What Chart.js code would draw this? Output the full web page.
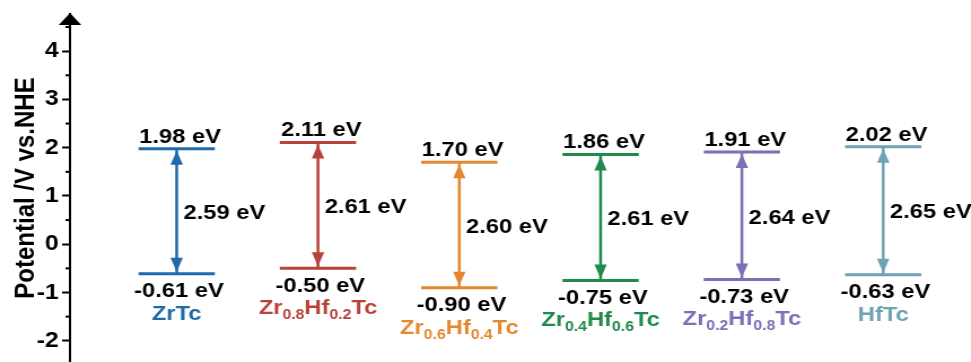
<!DOCTYPE html>
<html>
<head>
<meta charset="utf-8">
<script src="https://cdn.jsdelivr.net/npm/chart.js@4"></script>
<style>
  html, body { margin: 0; padding: 0; background: #fff; overflow: hidden; }
  /* the source figure is stretched sideways, so the canvas is too */
  #wrap { width: 860px; height: 362px; transform: scaleX(1.129); transform-origin: 0 0; }
</style>
</head>
<body>
<div id="wrap"><canvas id="chart" width="860" height="362"></canvas></div>
<script>
// ===== DATA =====
const materials = ['ZrTc', 'Zr_{0.8}Hf_{0.2}Tc', 'Zr_{0.6}Hf_{0.4}Tc', 'Zr_{0.4}Hf_{0.6}Tc', 'Zr_{0.2}Hf_{0.8}Tc', 'HfTc'];
const vbLevels = [1.98, 2.11, 1.70, 1.86, 1.91, 2.02];
const cbLevels = [-0.61, -0.50, -0.90, -0.75, -0.73, -0.63];
const bandGaps = [2.59, 2.61, 2.60, 2.61, 2.64, 2.65];
const colors = ['#1f6aa8', '#b8423a', '#e3882e', '#1f8a4a', '#7a70b5', '#6fa2b2'];
const yTicks = [-2, -1, 0, 1, 2, 3, 4];

const HALF = 0.27;   // half width of a level line, in x units
const FONT = "'Liberation Sans', Arial, sans-serif";

// Build line datasets: VB level, CB level, and the arrow shaft
const datasets = [];
materials.forEach((m, i) => {
    const x = i + 1;
    const base = { borderColor: colors[i], pointRadius: 0, showLine: true, fill: false };
    datasets.push({ ...base, borderWidth: 3,
        data: [{ x: x - HALF, y: vbLevels[i] }, { x: x + HALF, y: vbLevels[i] }] });
    datasets.push({ ...base, borderWidth: 3,
        data: [{ x: x - HALF, y: cbLevels[i] }, { x: x + HALF, y: cbLevels[i] }] });
    datasets.push({ ...base, borderWidth: 2.5,
        data: [{ x: x, y: vbLevels[i] }, { x: x, y: cbLevels[i] }] });
});

// draw text with _{sub} parts as subscripts
function drawName(ctx, text, cx, top, color) {
    const parts = text.split(/_\{([^}]*)\}/);
    const big = 'bold 21px ' + FONT, small = 'bold 14px ' + FONT;
    let w = 0;
    parts.forEach((p, k) => { ctx.font = k % 2 ? small : big; w += ctx.measureText(p).width; });
    let x = cx - w / 2;
    ctx.fillStyle = color;
    ctx.textAlign = 'left';
    ctx.textBaseline = 'alphabetic';
    parts.forEach((p, k) => {
        ctx.font = k % 2 ? small : big;
        ctx.fillText(p, x, top + 15 + (k % 2 ? 5 : 0));
        x += ctx.measureText(p).width;
    });
}

const bandPlugin = {
    id: 'bands',
    afterDatasetsDraw(chart) {
        const ctx = chart.ctx;
        const xs = chart.scales.x, ys = chart.scales.y;
        ctx.save();
        materials.forEach((m, i) => {
            const x = xs.getPixelForValue(i + 1);
            const yTop = ys.getPixelForValue(vbLevels[i]);
            const yBot = ys.getPixelForValue(cbLevels[i]);

            // arrow heads
            ctx.fillStyle = colors[i];
            ctx.beginPath();
            ctx.moveTo(x, yTop + 2);
            ctx.lineTo(x - 5.5, yTop + 16);
            ctx.lineTo(x + 5.5, yTop + 16);
            ctx.closePath();
            ctx.fill();
            ctx.beginPath();
            ctx.moveTo(x, yBot - 2);
            ctx.lineTo(x - 5.5, yBot - 16);
            ctx.lineTo(x + 5.5, yBot - 16);
            ctx.closePath();
            ctx.fill();

            // values
            ctx.fillStyle = '#000';
            ctx.font = 'bold 21px ' + FONT;
            ctx.textAlign = 'center';
            ctx.textBaseline = 'alphabetic';
            ctx.fillText(vbLevels[i].toFixed(2) + ' eV', x + 3, yTop - 6);
            ctx.textBaseline = 'top';
            ctx.fillText(cbLevels[i].toFixed(2) + ' eV', x + 2, yBot + 7);
            ctx.textAlign = 'left';
            ctx.textBaseline = 'middle';
            ctx.fillText(bandGaps[i].toFixed(2) + ' eV', x + 6, (yTop + yBot) / 2 + 2);

            drawName(ctx, materials[i], x, yBot + 31, colors[i]);
        });

        // minor ticks on the y axis
        const left = chart.chartArea.left;
        ctx.strokeStyle = '#000';
        ctx.lineWidth = 2;
        ys.ticks.forEach(t => {
            if (Number.isInteger(t.value)) return;
            const y = ys.getPixelForValue(t.value);
            ctx.beginPath();
            ctx.moveTo(left - 4, y);
            ctx.lineTo(left, y);
            ctx.stroke();
        });

        // arrow on top of the axis
        const top = chart.chartArea.top;
        ctx.fillStyle = '#000';
        ctx.beginPath();
        ctx.moveTo(left, top - 1);
        ctx.lineTo(left - 10, top + 11);
        ctx.lineTo(left + 10, top + 11);
        ctx.closePath();
        ctx.fill();
        ctx.restore();
    }
};

new Chart(document.getElementById('chart'), {
    type: 'scatter',
    data: { datasets },
    options: {
        responsive: false,
        animation: false,
        layout: { padding: { top: 14, left: 0, right: 0, bottom: 0 } },
        plugins: { legend: { display: false }, tooltip: { enabled: false } },
        scales: {
            x: { type: 'linear', min: 0.245, max: 6.621, display: false },
            y: {
                min: -2.44,
                max: 4.77,
                afterFit(s) {
                    s.width = 62;
                    s.paddingTop = 0;
                    s.paddingBottom = 0;
                },
                afterBuildTicks(s) {
                    // integer ticks plus half-unit minor ticks
                    const out = [];
                    yTicks.forEach(v => { out.push({ value: v }); out.push({ value: v + 0.5 }); });
                    s.ticks = out.filter(t => t.value >= s.min && t.value <= s.max);
                },
                border: { display: true, color: '#000', width: 2 },
                grid: {
                    drawOnChartArea: false,
                    drawTicks: true,
                    tickLength: 7,
                    tickWidth: 2,
                    tickColor: c => Number.isInteger(c.tick.value) ? '#000' : 'rgba(0,0,0,0)'
                },
                ticks: {
                    autoSkip: false,
                    padding: 3,
                    color: '#000',
                    font: { family: FONT, size: 22, weight: 'bold' },
                    callback: v => Number.isInteger(v) ? String(v) : ''
                },
                title: {
                    display: true,
                    text: 'Potential /V vs.NHE',
                    color: '#000',
                    font: { family: FONT, size: 24, weight: 'bold' },
                    padding: { top: 9, bottom: 0 }
                }
            }
        }
    },
    plugins: [bandPlugin]
});
</script>
</body>
</html>
